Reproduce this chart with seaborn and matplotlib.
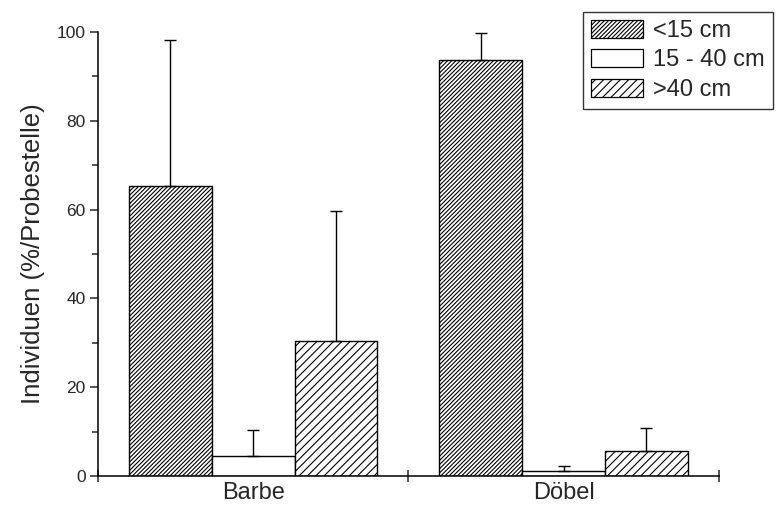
import matplotlib
matplotlib.use("Agg")
import matplotlib.pyplot as plt
from matplotlib.patches import Patch
import numpy as np
import pandas as pd
import seaborn as sns

# Fish size classes per species (mean share per sampling site, upper SD)
species = ["Barbe", "Döbel"]
size_classes = ["<15 cm", "15 - 40 cm", ">40 cm"]
barbe_mean = [65.3, 4.5, 30.4]
barbe_sd = [32.8, 5.9, 29.2]
doebel_mean = [93.6, 1.1, 5.6]
doebel_sd = [6.2, 1.2, 5.2]
hatches = ["////////", "", "////"]

df = pd.DataFrame({
    "Art": [s for s in species for _ in size_classes],
    "Klasse": size_classes * len(species),
    "Wert": barbe_mean + doebel_mean,
    "SD": barbe_sd + doebel_sd,
})

sns.set_style("ticks")
plt.rcParams["font.family"] = ["Liberation Sans", "DejaVu Sans"]
plt.rcParams["hatch.linewidth"] = 0.8

fig = plt.figure(figsize=(7.78, 5.05), dpi=100)
ax = fig.add_axes([0.126, 0.0574, 0.798, 0.8792])

sns.barplot(data=df, x="Art", y="Wert", hue="Klasse", order=species,
            hue_order=size_classes, errorbar=None, color="white",
            palette=["white"] * 3, edgecolor="black", linewidth=1.0,
            width=0.8, ax=ax, legend=False)

for cont, h, lvl in zip(ax.containers, hatches, size_classes):
    sub = df[df["Klasse"] == lvl].set_index("Art").loc[species]
    xs = []
    for bar in cont:
        bar.set_hatch(h)
        bar.set_facecolor("white")
        bar.set_edgecolor("black")
        xs.append(bar.get_x() + bar.get_width() / 2)
    sd = sub["SD"].to_numpy()
    ax.errorbar(xs, sub["Wert"].to_numpy(),
                yerr=[np.zeros_like(sd), sd], fmt="none",
                ecolor="black", elinewidth=1.0, capsize=4, capthick=1.0)

ax.set_xlim(-0.5, 1.5)
ax.set_ylim(0, 100)
ax.set_yticks([0, 20, 40, 60, 80, 100])
ax.set_yticks([10, 30, 50, 70, 90], minor=True)
ax.set_xticks([0, 1])
ax.set_xticklabels(species)
ax.set_xticks([-0.5, 0.5, 1.5], minor=True)

ax.tick_params(axis="y", which="major", direction="out", length=6,
               width=1.1, labelsize=12.5, pad=3)
ax.tick_params(axis="y", which="minor", direction="out", length=4,
               width=1.1)
ax.tick_params(axis="x", which="major", length=0, labelsize=17, pad=4)
ax.tick_params(axis="x", which="minor", direction="inout", length=9,
               width=1.1)

ax.set_xlabel("")
ax.set_ylabel("Individuen (%/Probestelle)", fontsize=18.5, labelpad=8)

sns.despine(ax=ax)
for side in ["left", "bottom"]:
    ax.spines[side].set_linewidth(1.1)
    ax.spines[side].set_color("black")

handles = [Patch(facecolor="white", edgecolor="black", hatch=h, label=l,
                 linewidth=0.9) for h, l in zip(hatches, size_classes)]
leg = fig.legend(handles=handles, loc="upper right",
                 bbox_to_anchor=(0.993, 0.977), frameon=True, fancybox=False,
                 fontsize=17, handlelength=2.2, handleheight=0.8,
                 handletextpad=0.4, borderpad=0.35, labelspacing=0.3,
                 borderaxespad=0)
leg.get_frame().set_edgecolor("black")
leg.get_frame().set_linewidth(1.0)

fig.savefig("out.png", dpi=100)
